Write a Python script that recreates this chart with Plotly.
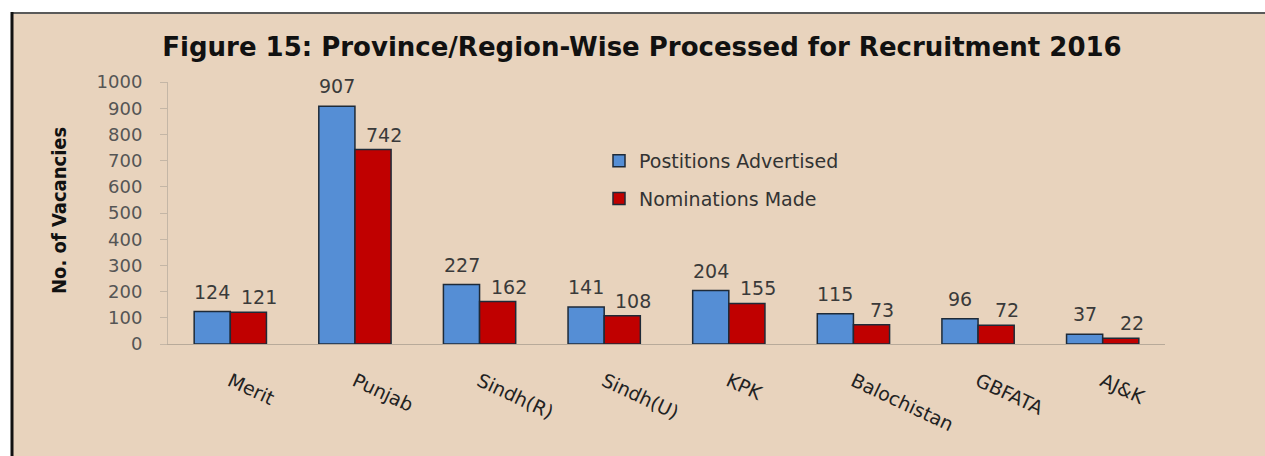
import plotly.graph_objects as go

categories = ["Merit", "Punjab", "Sindh(R)", "Sindh(U)", "KPK", "Balochistan", "GBFATA", "AJ&K"]
positions_advertised = [124, 907, 227, 141, 204, 115, 96, 37]
nominations_made = [121, 742, 162, 108, 155, 73, 72, 22]
y_ticks = [0, 100, 200, 300, 400, 500, 600, 700, 800, 900, 1000]

W, H = 1265, 456
L, R, T, B = 168, 100, 82, 112
pw, ph = W - L - R, H - T - B


def px(xp):
    return (xp - L) / pw


def py(yp):
    return (H - B - yp) / ph


BEIGE = "#E8D3BD"
BLUE = "#558ED5"
RED = "#C00000"
EDGE = "#1E2A38"
WIDE = "DejaVu Sans, Verdana, sans-serif"
LABEL_FONT = dict(family=WIDE, size=19, color="#3A3A3A")

fig = go.Figure()
fig.add_trace(go.Bar(
    x=categories, y=positions_advertised, name="Postitions Advertised",
    marker=dict(color=BLUE, line=dict(color=EDGE, width=1.5)),
    legendgroup="a",
))
fig.add_trace(go.Bar(
    x=categories, y=nominations_made, name="Nominations Made",
    marker=dict(color=RED, line=dict(color=EDGE, width=1.5)),
    legendgroup="b",
))

annotations = []
for c, v in zip(categories, positions_advertised):
    annotations.append(dict(x=c, y=v, xref="x", yref="y", text=str(v), showarrow=False,
                            xanchor="center", yanchor="middle", xshift=-18, yshift=20,
                            font=LABEL_FONT))
for c, v in zip(categories, nominations_made):
    annotations.append(dict(x=c, y=v, xref="x", yref="y", text=str(v), showarrow=False,
                            xanchor="center", yanchor="middle", xshift=29, yshift=15,
                            font=LABEL_FONT))
annotations.append(dict(
    text="<b>No. of Vacancies</b>", textangle=-90,
    xref="paper", yref="paper", x=px(59), y=py(211),
    xanchor="center", yanchor="middle", showarrow=False,
    font=dict(family="Liberation Sans Narrow, DejaVu Sans Condensed, Arial Narrow, Liberation Sans, sans-serif",
              size=20, color="#111111"),
))

shapes = [
    dict(type="rect", xref="paper", yref="paper", x0=px(12), x1=px(1275), y0=py(470), y1=py(13),
         fillcolor=BEIGE, line=dict(width=0), layer="below"),
    dict(type="line", xref="paper", yref="paper", x0=px(12), x1=px(1275), y0=py(13), y1=py(13),
         line=dict(color="#5A5A5A", width=2), layer="below"),
    dict(type="line", xref="paper", yref="paper", x0=px(12), x1=px(12), y0=py(470), y1=py(12),
         line=dict(color="#111111", width=3), layer="below"),
]

fig.update_layout(
    width=W, height=H,
    margin=dict(l=L, r=R, t=T, b=B),
    paper_bgcolor="white",
    plot_bgcolor=BEIGE,
    barmode="group",
    bargap=0.42,
    bargroupgap=0,
    shapes=shapes,
    annotations=annotations,
    showlegend=True,
    legend=dict(
        x=px(599), y=py(142), xanchor="left", yanchor="top",
        bgcolor="rgba(0,0,0,0)",
        font=dict(family=WIDE, size=19, color="#333333"),
        tracegroupgap=10,
    ),
    title=dict(
        text="<b>Figure 15: Province/Region-Wise Processed for Recruitment 2016</b>",
        x=642 / W, xanchor="center", xref="container",
        y=1 - 47 / H, yanchor="middle", yref="container",
        font=dict(family="DejaVu Sans, Liberation Sans, sans-serif", size=26, color="#111111"),
    ),
    xaxis=dict(
        type="category",
        tickangle=25,
        tickfont=dict(family=WIDE, size=19, color="#222222"),
        showline=True, linecolor="#B8AA9A", linewidth=1,
        ticks="", ticklabelstandoff=18,
        showgrid=False,
    ),
    yaxis=dict(
        range=[0, 1000],
        tickvals=y_ticks,
        ticktext=[str(v) for v in y_ticks],
        tickfont=dict(family=WIDE, size=18, color="#555555"),
        showline=True, linecolor="#C4B6A6", linewidth=1,
        ticks="outside", ticklen=7, tickcolor="#C4B6A6",
        ticklabelstandoff=14,
        showgrid=False, zeroline=False,
    ),
)

fig.write_html("out.html", config={"displayModeBar": False},
               post_script="document.body.style.margin='0';")
